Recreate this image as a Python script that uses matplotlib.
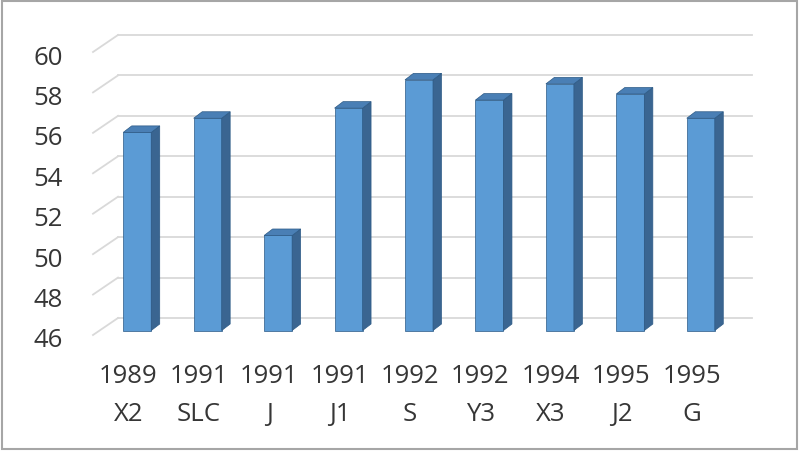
import numpy as np
import matplotlib
matplotlib.use("Agg")
import matplotlib.pyplot as plt
from matplotlib.patches import Polygon, Rectangle
from matplotlib.transforms import ScaledTranslation

years = ["1989", "1991", "1991", "1991", "1992", "1992", "1994", "1995", "1995"]
codes = ["X2", "SLC", "J", "J1", "S", "Y3", "X3", "J2", "G"]
values = [55.8, 56.5, 50.7, 57.0, 58.4, 57.4, 58.2, 57.7, 56.5]
y_ticks = [46, 48, 50, 52, 54, 56, 58, 60]

FRONT = "#5b9bd5"
SIDE = "#3a6591"
TOP = "#4a7fb5"
EDGE = "#2c5a86"
GRID = "#d9d9d9"
TEXT = "#363636"
FONT = "Open Sans"
FS = 18.5

W, H, DPI = 800, 452, 100
fig = plt.figure(figsize=(W / DPI, H / DPI), dpi=DPI)
fig.patch.set_facecolor("white")

# axes = back wall of the pseudo-3D plot (pixel box 118..752 x 36..319)
ax = fig.add_axes([118 / W, 1 - 319 / H, 634 / W, 283 / H])
ax.set_xlim(-0.5, len(values) - 0.5)
ax.set_ylim(46, 60)
ax.axis("off")

px_x = 634 / len(values)      # pixels per x unit
px_y = 283 / 14               # pixels per y unit

floor_dx, floor_dy = -25 / px_x, -17 / px_y   # back wall -> front edge
bar_dx, bar_dy = -16 / px_x, -12.5 / px_y     # back wall -> bar front face
deep_dx, deep_dy = 8.5 / px_x, 6.5 / px_y     # bar depth
bar_w = 28 / px_x

# gridlines: back wall + diagonal on the left side wall
for t in y_ticks:
    ax.plot([-0.5, len(values) - 0.5], [t, t], color=GRID, lw=1.3, zorder=1,
            clip_on=False)
    ax.plot([-0.5 + floor_dx, -0.5], [t + floor_dy, t], color=GRID, lw=1.3,
            zorder=1, clip_on=False)

# bars
x = np.arange(len(values)) + bar_dx
base = 46 + bar_dy
heights = np.array(values) - 46
ax.bar(x, heights, bottom=base, width=bar_w, color=FRONT, edgecolor=EDGE,
       linewidth=0.5, zorder=3, clip_on=False)
for xi, h in zip(x, heights):
    l, r = xi - bar_w / 2, xi + bar_w / 2
    top = base + h
    ax.add_patch(Polygon([(r, base), (r + deep_dx, base + deep_dy),
                          (r + deep_dx, top + deep_dy), (r, top)],
                         closed=True, fc=SIDE, ec=EDGE, lw=0.5, zorder=3,
                         clip_on=False))
    ax.add_patch(Polygon([(l, top), (r, top), (r + deep_dx, top + deep_dy),
                          (l + deep_dx, top + deep_dy)],
                         closed=True, fc=TOP, ec=EDGE, lw=0.5, zorder=3,
                         clip_on=False))

# y tick labels at the front edge
ylab_tr = ax.transData + ScaledTranslation(-55 / DPI, -22 / DPI, fig.dpi_scale_trans)
for t in y_ticks:
    ax.text(-0.5, t, str(t), transform=ylab_tr, ha="right", va="center",
            fontsize=FS, color=TEXT, family=FONT)

# category labels, two lines each
tr1 = ax.transData + ScaledTranslation(0, -58 / DPI, fig.dpi_scale_trans)
tr2 = ax.transData + ScaledTranslation(0, -96 / DPI, fig.dpi_scale_trans)
for i, (yr, cd) in enumerate(zip(years, codes)):
    xf = i + floor_dx
    ax.text(xf, 46, yr, transform=tr1, ha="center", va="center",
            fontsize=FS, color=TEXT, family=FONT)
    ax.text(xf, 46, cd, transform=tr2, ha="center", va="center",
            fontsize=FS, color=TEXT, family=FONT)

# outer chart border
fig.add_artist(Rectangle((2 / W, 2 / H), 795 / W, 448 / H, transform=fig.transFigure,
                         fill=False, ec="#a6a6a6", lw=1.5))

fig.savefig("out.png", dpi=DPI, facecolor=fig.get_facecolor())
